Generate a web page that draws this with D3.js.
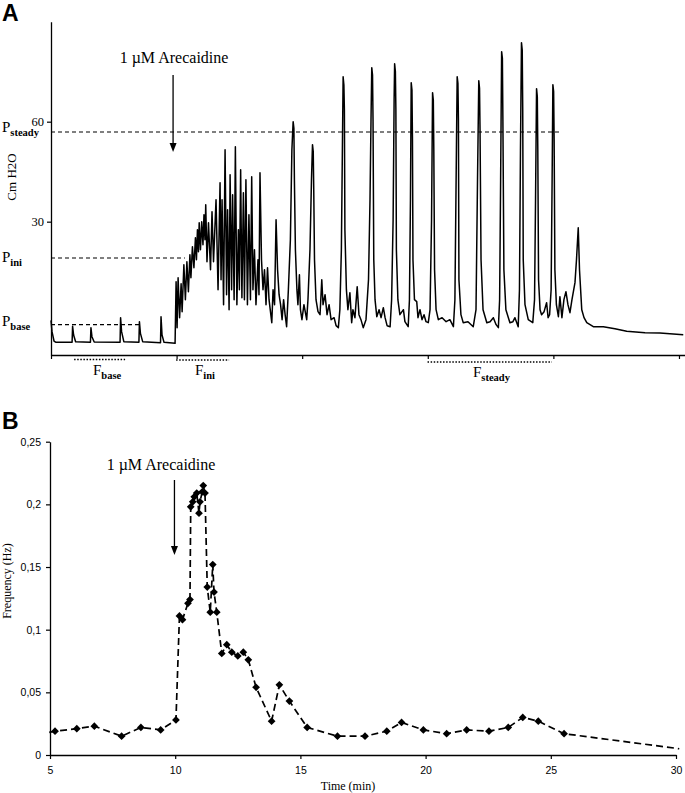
<!DOCTYPE html>
<html><head><meta charset="utf-8">
<script src="https://cdn.jsdelivr.net/npm/d3@7/dist/d3.min.js"></script>
<style>body{margin:0;background:#fff}svg{display:block}</style>
</head><body>
<svg id="c" width="685" height="793"></svg>
<script>
// ---------- DATA ----------
// Panel A: bladder pressure trace, [time (min), pressure (cm H2O)]
const baselinePhase = [[5.00,0.4],[5.04,-3.0],[5.12,-5.8],[5.20,-6.2],[5.84,-6.2],[5.86,-1.4],[5.90,-4.0],[5.98,-6.0],[6.57,-6.2],[6.59,-1.8],[6.63,-4.5],[6.72,-6.1],[7.75,-6.2],[7.77,1.2],[7.81,-3.0],[7.90,-6.0],[8.50,-6.2],[8.52,0.0],[8.56,-3.5],[8.65,-6.0],[9.36,-6.3],[9.38,1.5],[9.42,-4.0],[9.50,-6.2],[9.94,-6.5]];
const initialPhase = [[9.98,12.0],[10.02,-1.8],[10.06,13.2],[10.12,1.2],[10.18,11.4],[10.22,3.0],[10.29,17.1],[10.35,6.6],[10.41,18.0],[10.47,9.0],[10.53,20.1],[10.57,13.2],[10.63,22.5],[10.69,16.2],[10.75,25.2],[10.79,18.6],[10.83,27.6],[10.87,21.0],[10.90,29.7],[10.95,21.6],[11.00,30.0],[11.05,23.1],[11.09,32.1],[11.13,24.6],[11.16,35.1],[11.21,18.0],[11.27,29.7],[11.35,15.6],[11.41,33.0],[11.47,18.0],[11.57,36.6],[11.65,9.6],[11.73,41.7],[11.77,12.6],[11.81,36.6],[11.87,5.1],[11.93,51.6],[11.99,8.1],[12.03,33.6],[12.09,3.6],[12.13,44.1],[12.19,9.6],[12.23,38.1],[12.29,6.6],[12.34,52.5],[12.40,5.1],[12.46,27.6],[12.50,9.6],[12.55,45.6],[12.60,7.2],[12.66,38.7],[12.70,6.6],[12.76,42.6],[12.82,5.1],[12.88,32.1],[12.94,6.6],[12.99,43.5],[13.04,9.6],[13.10,21.6],[13.16,5.1],[13.24,18.6],[13.28,8.1],[13.32,44.7],[13.38,18.6],[13.44,9.6],[13.50,15.6],[13.56,5.1],[13.62,16.2],[13.68,6.6],[13.79,-0.3],[13.84,9.6],[13.90,5.1],[13.96,30.6],[14.02,15.6],[14.08,8.1],[14.14,5.1],[14.20,0.6],[14.26,6.6],[14.32,2.1],[14.38,-1.5]];
const steadyPhase = [[14.45,9.6],[14.53,24.6],[14.59,51.6],[14.64,60.0],[14.67,58.0],[14.69,42.6],[14.73,21.6],[14.79,9.6],[14.83,5.1],[14.89,14.1],[14.93,3.6],[14.99,0.6],[15.07,5.1],[15.18,0.6],
[15.23,6.6],[15.31,21.6],[15.37,42.6],[15.41,53.1],[15.44,51.0],[15.46,39.6],[15.49,18.6],[15.55,6.6],[15.63,3.0],[15.71,2.1],[15.78,12.6],[15.83,5.1],[15.91,8.1],[15.99,2.1],[16.07,5.1],[16.15,0.6],[16.27,1.2],[16.35,-1.2],[16.44,-1.8],
[16.50,3.6],[16.56,21.6],[16.60,51.6],[16.63,73.5],[16.66,71.0],[16.68,63.6],[16.70,27.6],[16.76,9.6],[16.82,3.6],[16.90,8.7],[16.97,-0.3],[17.02,3.6],[17.10,1.2],[17.19,10.5],[17.26,2.1],[17.34,0.6],[17.43,-1.8],
[17.54,0.6],[17.64,12.6],[17.70,36.6],[17.74,60.6],[17.77,76.2],[17.80,74.0],[17.82,60.6],[17.85,18.6],[17.90,6.6],[17.97,1.5],[18.06,3.6],[18.14,1.2],[18.23,4.2],[18.30,1.2],[18.38,-1.2],[18.50,-1.5],
[18.56,6.6],[18.62,30.6],[18.66,66.6],[18.68,77.4],[18.71,75.0],[18.73,63.6],[18.75,21.6],[18.81,6.6],[18.89,2.1],[19.03,3.6],[19.09,0.0],[19.22,-1.5],
[19.27,6.6],[19.31,36.6],[19.34,71.7],[19.37,69.5],[19.39,54.6],[19.41,18.6],[19.47,6.6],[19.56,6.0],[19.61,1.2],[19.69,3.6],[19.77,0.6],[19.85,2.1],[19.93,0.0],[20.02,-0.3],
[20.09,3.6],[20.15,30.6],[20.19,68.7],[20.22,66.5],[20.24,51.6],[20.27,15.6],[20.33,3.6],[20.42,0.6],[20.57,1.2],[20.73,0.0],[20.88,0.6],[21.02,-1.5],
[21.08,6.6],[21.14,51.6],[21.17,73.5],[21.20,71.5],[21.22,60.6],[21.24,12.6],[21.32,2.1],[21.41,-0.3],[21.60,0.0],[21.81,-1.5],
[21.92,3.6],[21.98,42.6],[22.03,72.3],[22.06,70.0],[22.08,57.6],[22.12,18.6],[22.20,3.6],[22.35,-0.3],[22.48,0.0],[22.61,1.2],[22.72,-0.9],[22.81,-1.8],
[22.86,6.6],[22.90,42.6],[22.94,81.0],[22.97,79.0],[22.99,60.6],[23.03,15.6],[23.11,3.6],[23.27,-0.3],[23.39,0.0],[23.47,1.2],[23.60,-1.5],
[23.65,9.6],[23.69,51.6],[23.73,83.7],[23.76,81.5],[23.78,63.6],[23.80,18.6],[23.87,5.1],[24.00,0.6],[24.18,-0.3],
[24.25,6.6],[24.29,36.6],[24.33,69.9],[24.36,67.5],[24.38,51.6],[24.41,12.6],[24.47,3.6],[24.53,2.1],[24.63,3.0],[24.73,5.7],[24.79,1.2],[24.85,2.1],
[24.91,9.6],[24.95,42.6],[24.98,71.1],[25.01,69.0],[25.03,54.6],[25.06,15.6],[25.12,5.1],[25.20,1.5],[25.26,7.5],[25.34,1.2],[25.42,6.6],[25.50,9.0],[25.58,5.1],[25.66,2.7],[25.74,6.6],[25.86,11.7],[25.92,18.6],[25.99,28.2],[26.04,15.6],[26.13,3.6],[26.22,1.2],[26.33,-0.3],[26.46,-0.9],[26.59,-1.5]];
const washoutPhase = [[26.99,-1.5],[27.45,-2.1],[27.92,-2.9],[28.65,-3.3],[29.24,-3.4],[30.17,-3.9]];

const timeTicks = [5, 10, 15, 20, 25, 30];
const pressureTicks = [30, 60];
const pLevelNames = ['steady', 'ini', 'base'];
const pLevelValues = [56.9, 19.1, -0.9];
const pLevelEnds = [25.33, 10.33, 8.54];
const fWindowNames = ['base', 'ini', 'steady'];
const fWindowStart = [5.92, 9.98, 19.99];
const fWindowEnd = [7.95, 12.09, 24.94];
const arecaidineTimeA = 9.86;
const arecaidineTimeB = 9.97;

// Panel B: contraction frequency
const freqTime = [4.97,5.20,6.07,6.77,7.86,8.63,9.42,10.03,10.17,10.29,10.51,10.59,10.62,10.70,10.76,10.86,10.95,10.99,11.08,11.12,11.19,11.28,11.40,11.50,11.55,11.66,11.86,12.06,12.26,12.50,12.72,12.92,13.23,13.85,14.16,14.56,15.27,16.48,17.58,18.45,19.04,19.91,20.84,21.64,22.53,23.30,23.88,24.50,25.53,30.13];
const freqHz = [0.018,0.019,0.021,0.023,0.015,0.022,0.020,0.028,0.111,0.108,0.121,0.124,0.198,0.202,0.206,0.209,0.193,0.202,0.210,0.215,0.209,0.134,0.114,0.152,0.130,0.114,0.081,0.088,0.082,0.079,0.082,0.076,0.054,0.027,0.056,0.043,0.022,0.015,0.015,0.019,0.026,0.020,0.017,0.020,0.019,0.022,0.030,0.027,0.017,0.005];
const freqTicks = [0, 0.05, 0.1, 0.15, 0.2, 0.25];

// ---------- DRAW ----------
const svg = d3.select('#c');
svg.append('rect').attr('width', 685).attr('height', 793).attr('fill', '#fff');
const serif = '"Liberation Serif","Times New Roman",serif';
const sans = '"Liberation Sans",Arial,sans-serif';

function styleAxis(g) {
  g.selectAll('.domain').attr('stroke', '#000').attr('stroke-width', 1.3);
  g.selectAll('.tick line').attr('stroke', '#000').attr('stroke-width', 1.2);
}
function arrow(x, y0, y1) {
  svg.append('line').attr('x1', x).attr('x2', x).attr('y1', y0).attr('y2', y1 - 8)
    .attr('stroke', '#000').attr('stroke-width', 1.3);
  svg.append('path').attr('d', `M${x - 3.5},${y1 - 9}L${x + 3.5},${y1 - 9}L${x},${y1}Z`).attr('fill', '#000');
}

// ----- Panel A -----
const xA = d3.scaleLinear([5, 30.24], [51, 685]);
const yA = d3.scaleLinear([-10, 90], [355, 21.7]);

const gxA = svg.append('g').attr('transform', 'translate(0,355)')
  .call(d3.axisBottom(xA).tickValues(timeTicks).tickSize(4).tickSizeOuter(0).tickFormat(''));
styleAxis(gxA);
const gyA = svg.append('g').attr('transform', 'translate(51,0)')
  .call(d3.axisLeft(yA).tickValues(pressureTicks).tickSize(4).tickSizeOuter(0).tickPadding(3));
styleAxis(gyA);
gyA.selectAll('text').attr('font-family', serif).attr('font-size', 12.5).attr('fill', '#000');

const trace = baselinePhase.concat(initialPhase, steadyPhase, washoutPhase);
svg.append('path').datum(trace)
  .attr('d', d3.line().x(d => xA(d[0])).y(d => yA(d[1])))
  .attr('fill', 'none').attr('stroke', '#000').attr('stroke-width', 1.5).attr('stroke-linejoin', 'round');

// P reference levels
const pLabelBase = [132, 262, 326];
pLevelValues.forEach((v, i) => {
  svg.append('line').attr('x1', xA(5)).attr('x2', xA(pLevelEnds[i]))
    .attr('y1', yA(v)).attr('y2', yA(v))
    .attr('stroke', '#000').attr('stroke-width', 1.2).attr('stroke-dasharray', '4,3');
  const t = svg.append('text').attr('x', 2).attr('y', pLabelBase[i])
    .attr('font-family', serif).attr('font-size', 15).attr('fill', '#000');
  t.append('tspan').text('P');
  t.append('tspan').attr('dy', 4).attr('font-size', 10.5).attr('font-weight', 'bold').text(pLevelNames[i]);
});

// F windows
const fLabelX = [93, 195, 473];
const fLineY = [359.5, 360, 362];
const fLabelBase = [375, 375, 377];
fWindowStart.forEach((s, i) => {
  svg.append('line').attr('x1', xA(s)).attr('x2', xA(fWindowEnd[i]))
    .attr('y1', fLineY[i]).attr('y2', fLineY[i])
    .attr('stroke', '#000').attr('stroke-width', 1.6).attr('stroke-dasharray', '1.5,1.6');
  const t = svg.append('text').attr('x', fLabelX[i]).attr('y', fLabelBase[i])
    .attr('font-family', serif).attr('font-size', 15).attr('fill', '#000');
  t.append('tspan').text('F');
  t.append('tspan').attr('dy', 4).attr('font-size', 10.5).attr('font-weight', 'bold').text(fWindowNames[i]);
});

svg.append('text').attr('transform', 'translate(16,177) rotate(-90)').attr('text-anchor', 'middle')
  .attr('font-family', serif).attr('font-size', 13).text('Cm H2O');

svg.append('text').attr('x', 174).attr('y', 63).attr('text-anchor', 'middle')
  .attr('font-family', serif).attr('font-size', 16).text('1 \u00b5M Arecaidine');
arrow(xA(arecaidineTimeA), 75, 152);

svg.append('text').attr('x', 2).attr('y', 21).attr('font-family', sans).attr('font-weight', 'bold')
  .attr('font-size', 23).text('A');

// ----- Panel B -----
const xB = d3.scaleLinear([5, 30], [50, 676]);
const yB = d3.scaleLinear([0, 0.25], [755, 441.7]);

const gxB = svg.append('g').attr('transform', 'translate(0,755)')
  .call(d3.axisBottom(xB).tickValues(timeTicks).tickSize(4).tickSizeOuter(0).tickPadding(8));
styleAxis(gxB);
gxB.selectAll('text').attr('font-family', sans).attr('font-size', 10.5).attr('fill', '#000');
const gyB = svg.append('g').attr('transform', 'translate(50,0)')
  .call(d3.axisLeft(yB).tickValues(freqTicks).tickSize(4).tickSizeOuter(0).tickPadding(5)
    .tickFormat(d => String(d).replace('.', ',')));
styleAxis(gyB);
gyB.selectAll('text').attr('font-family', sans).attr('font-size', 10.5).attr('fill', '#000');

const freqPts = freqTime.map((t, i) => [t, freqHz[i]]);
svg.append('path').datum(freqPts)
  .attr('d', d3.line().x(d => xB(d[0])).y(d => yB(d[1])))
  .attr('fill', 'none').attr('stroke', '#000').attr('stroke-width', 1.7).attr('stroke-dasharray', '7,4');
svg.append('g').selectAll('path').data(freqPts.filter(d => d[0] >= 5 && d[0] <= 30)).join('path')
  .attr('d', d3.symbol(d3.symbolSquare, 30))
  .attr('transform', d => `translate(${xB(d[0])},${yB(d[1])}) rotate(45)`)
  .attr('fill', '#000');

svg.append('text').attr('x', 161).attr('y', 470).attr('text-anchor', 'middle')
  .attr('font-family', serif).attr('font-size', 16).text('1 \u00b5M Arecaidine');
arrow(xB(arecaidineTimeB), 480, 555);

svg.append('text').attr('x', 348).attr('y', 790).attr('text-anchor', 'middle')
  .attr('font-family', serif).attr('font-size', 12).text('Time (min)');
svg.append('text').attr('transform', 'translate(11,581) rotate(-90)').attr('text-anchor', 'middle')
  .attr('font-family', serif).attr('font-size', 12).text('Frequency (Hz)');

svg.append('text').attr('x', 2).attr('y', 429).attr('font-family', sans).attr('font-weight', 'bold')
  .attr('font-size', 23).text('B');
</script>
</body></html>
